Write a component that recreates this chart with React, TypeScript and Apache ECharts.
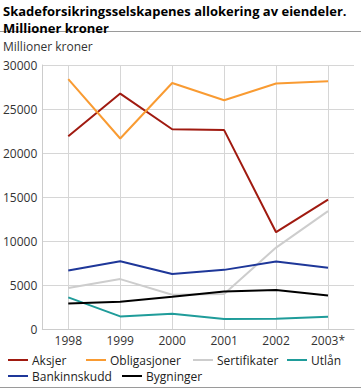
import React, { useEffect, useRef } from "react";
import * as echarts from "echarts";

const years = ["1998", "1999", "2000", "2001", "2002", "2003*"];
const aksjer = [21900, 26750, 22700, 22600, 11000, 14700];
const obligasjoner = [28400, 21650, 27950, 26000, 27900, 28150];
const sertifikater = [4650, 5670, 3900, 3970, 9250, 13400];
const utlan = [3600, 1430, 1730, 1130, 1170, 1400];
const bankinnskudd = [6640, 7700, 6240, 6720, 7670, 6950];
const bygninger = [2900, 3100, 3660, 4260, 4420, 3810];

const FONT = "Open Sans";

export default function App() {
  const ref = useRef<HTMLDivElement>(null);
  useEffect(() => {
    if (!ref.current) return;
    const chart = echarts.init(ref.current, undefined, { renderer: "svg" });
    const seriesDefs = [
      { name: "Aksjer", data: aksjer, color: "#A01A10" },
      { name: "Obligasjoner", data: obligasjoner, color: "#F99B32" },
      { name: "Sertifikater", data: sertifikater, color: "#CDCDCD" },
      { name: "Utlån", data: utlan, color: "#1F9C9A" },
      { name: "Bankinnskudd", data: bankinnskudd, color: "#1E3799" },
      { name: "Bygninger", data: bygninger, color: "#000000" },
    ];
    const legendPos = [
      { left: 8, top: 354 },
      { left: 86, top: 354 },
      { left: 193, top: 354 },
      { left: 287, top: 354 },
      { left: 8, top: 370 },
      { left: 122, top: 370 },
    ];
    chart.setOption({
      animation: false,
      textStyle: { fontFamily: FONT },
      title: {
        text: "Skadeforsikringsselskapenes allokering av eiendeler.\nMillioner kroner",
        left: 3,
        top: 2,
        padding: 0,
        textStyle: { fontFamily: FONT, fontSize: 13, fontWeight: "bold", color: "#000", lineHeight: 17 },
      },
      graphic: [
        { type: "line", shape: { x1: 0, y1: 31.5, x2: 361, y2: 31.5 }, style: { stroke: "#9a9a9a", lineWidth: 1 } },
        { type: "line", shape: { x1: 0, y1: 387.5, x2: 361, y2: 387.5 }, style: { stroke: "#9a9a9a", lineWidth: 1 } },
        { type: "text", left: 3, top: 40, style: { text: "Millioner kroner", font: `12px "${FONT}"`, fill: "#333" } },
      ],
      legend: seriesDefs.map((s, i) => ({
        data: [s.name],
        left: legendPos[i].left,
        top: legendPos[i].top,
        padding: 0,
        icon: "rect",
        itemWidth: 20,
        itemHeight: 2,
        itemGap: 5,
        textStyle: { fontFamily: FONT, fontSize: 12, color: "#222", padding: [0, 0, 0, -1] },
        selectedMode: false,
      })),
      grid: { left: 42, right: 7, top: 65, bottom: 60, containLabel: false },
      xAxis: {
        type: "category",
        data: years,
        boundaryGap: true,
        axisLine: { show: true, lineStyle: { color: "#cccccc", width: 1 } },
        axisTick: { show: false },
        axisLabel: { color: "#333", fontSize: 12, fontFamily: FONT, margin: 5 },
        splitLine: { show: true, alignWithLabel: true, lineStyle: { color: "#d6d6d6", width: 1 } },
      },
      yAxis: {
        type: "value",
        min: 0,
        max: 30000,
        interval: 5000,
        axisLine: { show: true, lineStyle: { color: "#cccccc", width: 1 } },
        axisTick: { show: false },
        axisLabel: {
          color: "#333",
          fontSize: 12,
          fontFamily: FONT,
          margin: 5,
          formatter: (v: number) => String(v),
        },
        splitLine: { show: true, lineStyle: { color: "#d6d6d6", width: 1 } },
      },
      series: seriesDefs.map((s) => ({
        name: s.name,
        type: "line",
        data: s.data,
        symbol: "none",
        color: s.color,
        lineStyle: { width: 2, color: s.color },
      })),
    });
    return () => chart.dispose();
  }, []);
  return <div ref={ref} style={{ width: 361, height: 389, position: "absolute", left: 0, top: 0 }} />;
}
